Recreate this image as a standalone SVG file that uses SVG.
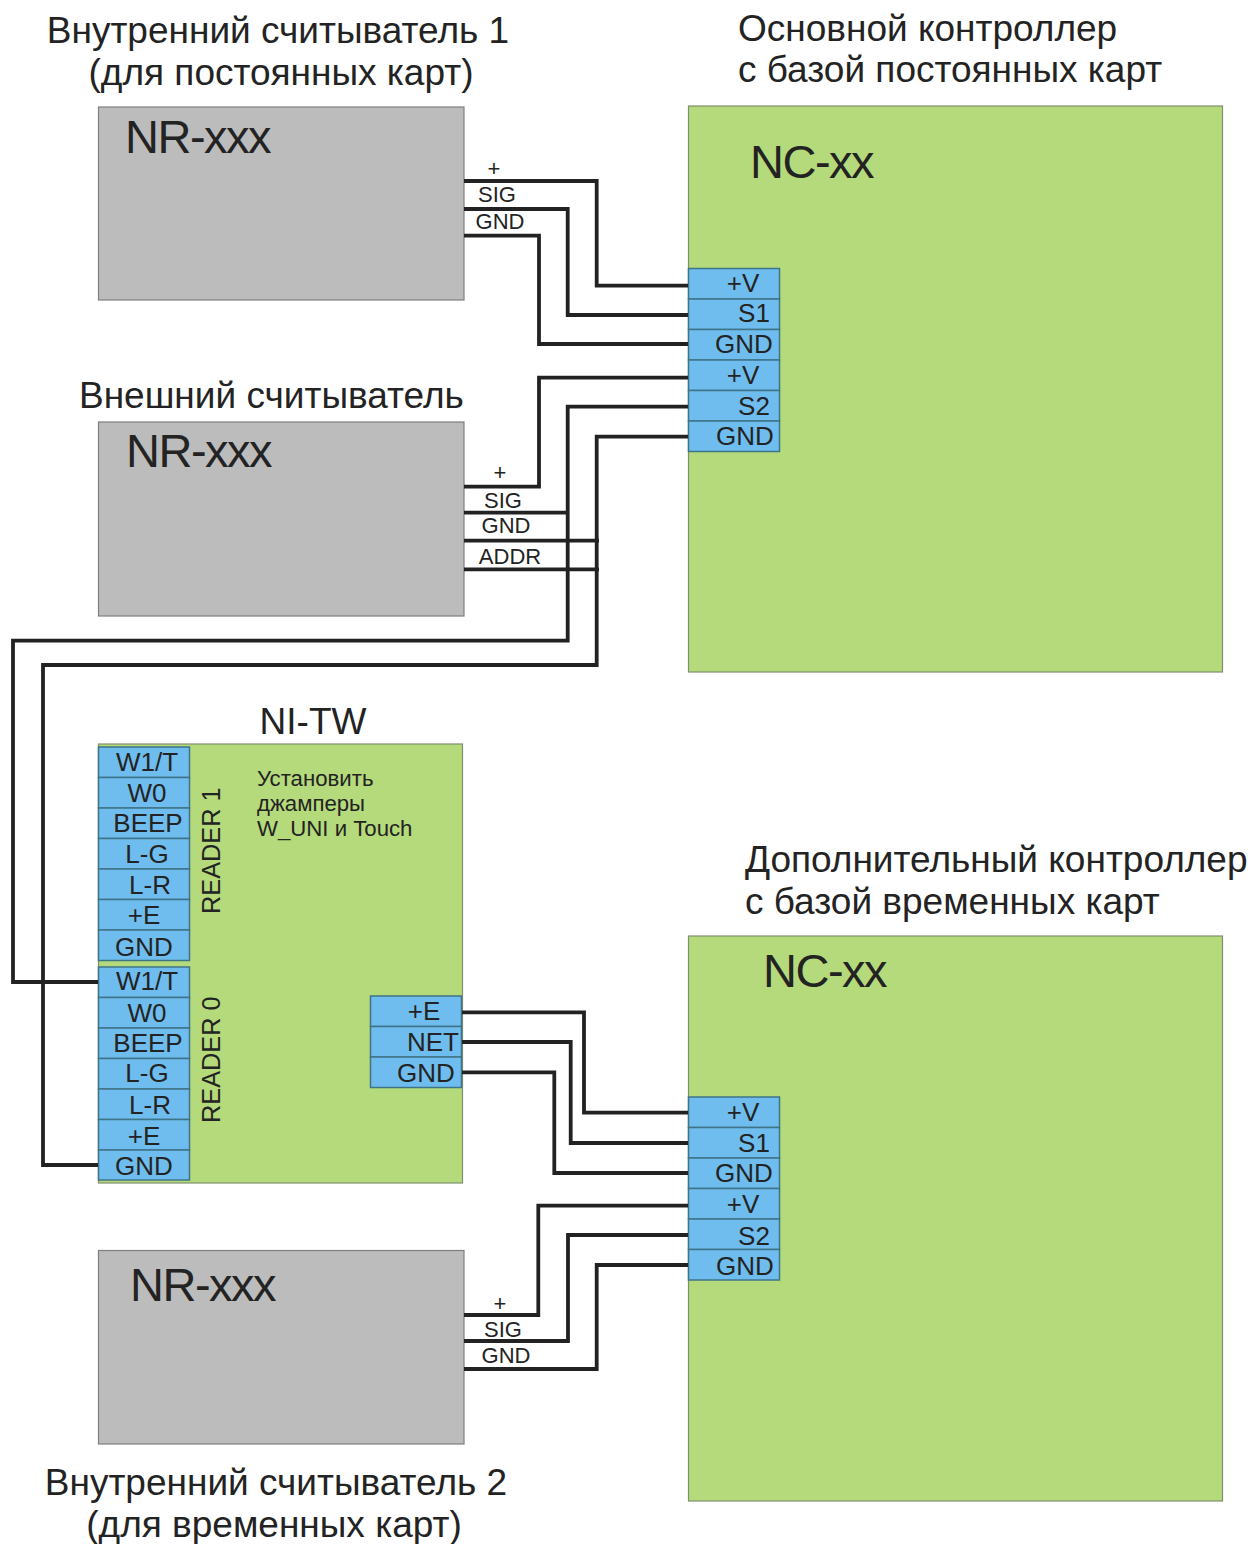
<svg xmlns="http://www.w3.org/2000/svg" width="1253" height="1544" viewBox="0 0 1253 1544">
<style>
text{font-family:"Liberation Sans",Arial,sans-serif;fill:#232323}
.t{font-size:37px}
.n{font-size:47px;letter-spacing:-1.5px}
.p{font-size:26px;text-anchor:middle}
.w{font-size:22px;text-anchor:middle}
.r{font-size:25.300px}
.s{font-size:22.200px}
.g{fill:#bcbcbc;stroke:#7f7f7f;stroke-width:1.2}
.c{fill:#b5da7b;stroke:#7f8f6f;stroke-width:1.2}
.b{fill:#6fbdee;stroke:#3f7488;stroke-width:1.5}
#connectors path{fill:none;stroke:#222;stroke-width:3.8}
</style>
<rect width="1253" height="1544" fill="#fff"/>
<g id="title-reader-1"><text class="t" x="278" y="43" text-anchor="middle">Внутренний считыватель 1</text><text class="t" x="281" y="85" text-anchor="middle">(для постоянных карт)</text></g>
<g id="title-main"><text class="t" x="738" y="41">Основной контроллер</text><text class="t" x="738" y="82">с базой постоянных карт</text></g>
<g id="title-ext"><text class="t" x="79" y="408">Внешний считыватель</text></g>
<g id="title-extra"><text class="t" x="745" y="872">Дополнительный контроллер</text><text class="t" x="745" y="914">с базой временных карт</text></g>
<g id="title-reader-2"><text class="t" x="276" y="1495" text-anchor="middle">Внутренний считыватель 2</text><text class="t" x="274" y="1537" text-anchor="middle">(для временных карт)</text></g>

<g id="nr-1"><rect class="g" x="98.500" y="107" width="365.500" height="193"/><text class="n" x="125" y="153">NR-xxx</text></g>
<g id="nr-2"><rect class="g" x="98.500" y="422" width="365.500" height="194"/><text class="n" x="126" y="467">NR-xxx</text></g>
<g id="nr-3"><rect class="g" x="98.500" y="1250.500" width="365.500" height="193.500"/><text class="n" x="130" y="1301">NR-xxx</text></g>

<g id="nc-1"><rect class="c" x="688.500" y="106" width="534" height="566"/><text class="n" x="750" y="178">NC-xx</text>
<rect class="b" x="688.500" y="268.500" width="91" height="30.500"/><rect class="b" x="688.500" y="299" width="91" height="30.500"/><rect class="b" x="688.500" y="329.500" width="91" height="30.500"/><rect class="b" x="688.500" y="360" width="91" height="30.500"/><rect class="b" x="688.500" y="390.500" width="91" height="30.500"/><rect class="b" x="688.500" y="421" width="91" height="30.500"/>
<text class="p" x="743" y="292">+V</text><text class="p" x="754" y="322">S1</text><text class="p" x="744" y="353">GND</text><text class="p" x="743" y="384">+V</text><text class="p" x="754" y="415">S2</text><text class="p" x="745" y="445">GND</text></g>

<g id="nc-2"><rect class="c" x="688.500" y="936" width="534" height="565"/><text class="n" x="763" y="987">NC-xx</text>
<rect class="b" x="688.500" y="1097" width="91" height="30.500"/><rect class="b" x="688.500" y="1127.500" width="91" height="30.500"/><rect class="b" x="688.500" y="1158" width="91" height="30.500"/><rect class="b" x="688.500" y="1188.500" width="91" height="30.500"/><rect class="b" x="688.500" y="1219" width="91" height="30.500"/><rect class="b" x="688.500" y="1249.500" width="91" height="30.500"/>
<text class="p" x="743" y="1121">+V</text><text class="p" x="754" y="1152">S1</text><text class="p" x="744" y="1182">GND</text><text class="p" x="743" y="1213">+V</text><text class="p" x="754" y="1245">S2</text><text class="p" x="745" y="1275">GND</text></g>

<g id="ni-tw"><rect class="c" x="98.500" y="744" width="364" height="439"/>
<text x="313" y="734" font-size="37" text-anchor="middle">NI-TW</text>
<rect class="b" x="98.500" y="747" width="91" height="30.500"/><rect class="b" x="98.500" y="777.500" width="91" height="30.500"/><rect class="b" x="98.500" y="808" width="91" height="30.500"/><rect class="b" x="98.500" y="838.500" width="91" height="30.500"/><rect class="b" x="98.500" y="869" width="91" height="30.500"/><rect class="b" x="98.500" y="899.500" width="91" height="30.500"/><rect class="b" x="98.500" y="930" width="91" height="30.500"/>
<rect class="b" x="98.500" y="967" width="91" height="30.500"/><rect class="b" x="98.500" y="997.500" width="91" height="30.500"/><rect class="b" x="98.500" y="1028" width="91" height="30.500"/><rect class="b" x="98.500" y="1058.500" width="91" height="30.500"/><rect class="b" x="98.500" y="1089" width="91" height="30.500"/><rect class="b" x="98.500" y="1119.500" width="91" height="30.500"/><rect class="b" x="98.500" y="1150" width="91" height="30"/>
<text class="p" x="147" y="771">W1/T</text><text class="p" x="147" y="802">W0</text><text class="p" x="148" y="832">BEEP</text><text class="p" x="147" y="863">L-G</text><text class="p" x="150" y="894">L-R</text><text class="p" x="144" y="924">+E</text><text class="p" x="144" y="956">GND</text>
<text class="p" x="147" y="990">W1/T</text><text class="p" x="147" y="1022">W0</text><text class="p" x="148" y="1052">BEEP</text><text class="p" x="147" y="1082">L-G</text><text class="p" x="150" y="1114">L-R</text><text class="p" x="144" y="1145">+E</text><text class="p" x="144" y="1175">GND</text>
<text class="r" transform="translate(220,914) rotate(-90)">READER 1</text>
<text class="r" transform="translate(220,1123) rotate(-90)">READER 0</text>
<text class="s" x="257" y="786">Установить</text><text class="s" x="257" y="811">джамперы</text><text class="s" x="257" y="836">W_UNI и Touch</text>
<rect class="b" x="370.500" y="996" width="91" height="30.500"/><rect class="b" x="370.500" y="1026.500" width="91" height="30.500"/><rect class="b" x="370.500" y="1057" width="91" height="30.500"/>
<text class="p" x="424" y="1020">+E</text><text class="p" x="433" y="1051">NET</text><text class="p" x="426" y="1082">GND</text></g>

<g id="connectors">
<path d="M464 181H596.700V285.700H688"/>
<path d="M464 209H567.700V315H688"/>
<path d="M464 235.700H539V344H688"/>
<path d="M464 486.700H539V377.700H688"/>
<path d="M464 512.700H567.700"/>
<path d="M688 406.700H567.700V640.700H13V982H98"/>
<path d="M688 436.700H596.700V665H43V1165H98"/>
<path d="M464 540.700H599"/>
<path d="M464 569.300H599"/>
<path d="M462 1012.300H584V1112.700H688"/>
<path d="M462 1042H570.700V1143H688"/>
<path d="M462 1072.300H554.300V1173H688"/>
<path d="M464 1315H538.300V1205.700H688"/>
<path d="M464 1341H568V1235H688"/>
<path d="M464 1369H596.700V1265H688"/>
</g>
<g id="wire-labels">
<text class="w" x="494" y="176">+</text><text class="w" x="497" y="202">SIG</text><text class="w" x="500" y="229">GND</text>
<text class="w" x="500" y="480">+</text><text class="w" x="503" y="508">SIG</text><text class="w" x="506" y="533">GND</text><text class="w" x="510" y="564">ADDR</text>
<text class="w" x="500" y="1311">+</text><text class="w" x="503" y="1337">SIG</text><text class="w" x="506" y="1363">GND</text>
</g>
</svg>
